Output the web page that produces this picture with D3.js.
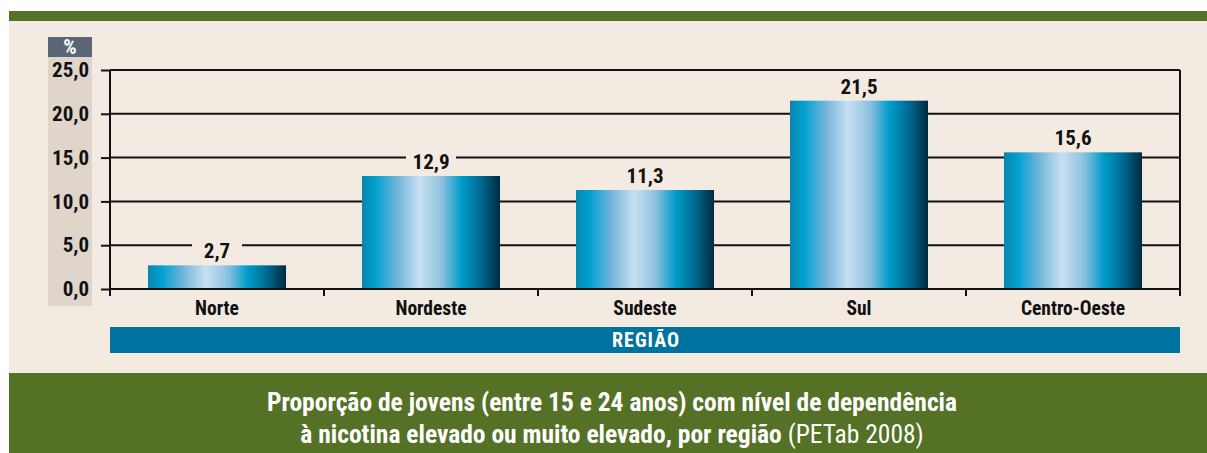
<!DOCTYPE html>
<html><head><meta charset="utf-8">
<script src="https://cdn.jsdelivr.net/npm/d3@7"></script>
<style>
body{margin:0;background:#fff;}
svg{display:block;}
text{font-family:"Liberation Sans Narrow","Roboto Condensed","Liberation Sans",sans-serif;}
</style></head>
<body><svg id="c" width="1207" height="453"></svg>
<script>
const categories = ["Norte","Nordeste","Sudeste","Sul","Centro-Oeste"];
const values = [2.7,12.9,11.3,21.5,15.6];
const yTicks = [0,5,10,15,20,25];
const axisTitle = "REGIÃO";
const unitLabel = "%";
const titleLine1 = "Proporção de jovens (entre 15 e 24 anos) com nível de dependência";
const titleLine2Bold = "à nicotina elevado ou muito elevado, por região";
const titleLine2Rest = " (PETab 2008)";

const svg = d3.select("#c");
const fmt = v => d3.format(".1f")(v).replace(".", ",");

// background panels
svg.append("rect").attr("x",9).attr("y",11).attr("width",1198).attr("height",10).attr("fill","#547126");
svg.append("rect").attr("x",9).attr("y",21).attr("width",1198).attr("height",352).attr("fill","#f3ebe1");
svg.append("rect").attr("x",9).attr("y",373).attr("width",1198).attr("height",80).attr("fill","#547126");

// gradient
const defs = svg.append("defs");
const g = defs.append("linearGradient").attr("id","barg").attr("x1","0%").attr("x2","100%").attr("y1","0%").attr("y2","0%");
[[0,"#0a86ad"],[0.1,"#00a0cf"],[0.25,"#6fb3d9"],[0.42,"#c8e0f1"],[0.58,"#8cc0de"],[0.72,"#009ccb"],[0.86,"#006a92"],[1,"#002a40"]]
  .forEach(([o,c])=>g.append("stop").attr("offset",o).attr("stop-color",c));

const x = d3.scaleBand().domain(categories).range([110,1180]).paddingInner(0.355).paddingOuter(0.1775);
const y = d3.scaleLinear().domain([0,25]).range([289,70]);

// unit box and tick label column
svg.append("rect").attr("x",48).attr("y",57).attr("width",44).attr("height",249).attr("fill","#dfd5cb");
svg.append("rect").attr("x",48).attr("y",37).attr("width",44).attr("height",20).attr("fill","#5a6577");
svg.append("text").attr("x",70).attr("y",54).attr("text-anchor","middle").attr("fill","#fff")
  .attr("font-weight","bold").attr("font-size",21).text(unitLabel);

// gridlines
svg.append("g").selectAll("line").data(yTicks.filter(d=>d>0)).join("line")
  .attr("x1",110).attr("x2",1180).attr("y1",d=>y(d)).attr("y2",d=>y(d))
  .attr("stroke","#111").attr("stroke-width",2);
svg.append("line").attr("x1",1180).attr("x2",1180).attr("y1",y(25)).attr("y2",y(0)).attr("stroke","#111").attr("stroke-width",2);

// y axis
const ya = svg.append("g").attr("transform","translate(110,0)")
  .call(d3.axisLeft(y).tickValues(yTicks).tickSize(9).tickPadding(12).tickFormat(fmt));
ya.select(".domain").attr("stroke","#111").attr("stroke-width",2).attr("d","M0,"+y(25)+"V"+y(0));
ya.selectAll(".tick line").attr("stroke","#111").attr("stroke-width",2);
ya.selectAll(".tick text").attr("font-size",21).attr("font-weight","bold").attr("fill","#111")
  .attr("font-family",'"Liberation Sans Narrow","Roboto Condensed","Liberation Sans",sans-serif');

// bars
svg.append("g").selectAll("rect").data(values).join("rect")
  .attr("x",(d,i)=>x(categories[i])).attr("width",x.bandwidth())
  .attr("y",d=>y(d)).attr("height",d=>y(0)-y(d)).attr("fill","url(#barg)");

// x axis
const xa = svg.append("g").attr("transform","translate(0,"+y(0)+")");
xa.append("line").attr("x1",110).attr("x2",1180).attr("stroke","#111").attr("stroke-width",2);
const bounds = d3.range(categories.length+1).map(i=>110+i*x.step());
xa.selectAll(".tk").data(bounds).join("line").attr("class","tk")
  .attr("x1",d=>d).attr("x2",d=>d).attr("y1",0).attr("y2",7).attr("stroke","#111").attr("stroke-width",2);
xa.selectAll(".lb").data(categories).join("text").attr("class","lb")
  .attr("x",d=>x(d)+x.bandwidth()/2).attr("y",26).attr("text-anchor","middle")
  .attr("font-size",19.5).attr("font-weight","bold").attr("fill","#111").text(d=>d);

// value labels
const vl = svg.append("g").selectAll("g").data(values).join("g")
  .attr("transform",(d,i)=>`translate(${x(categories[i])+x.bandwidth()/2},${y(d)-7})`);
vl.append("rect").attr("x",-25).attr("y",-19).attr("width",50).attr("height",21).attr("fill","#f3ebe1");
vl.append("text").attr("text-anchor","middle").attr("font-size",21).attr("font-weight","bold").attr("fill","#111").text(d=>fmt(d));

// region bar
svg.append("rect").attr("x",110).attr("y",327).attr("width",1070).attr("height",26).attr("fill","#0072a0");
svg.append("text").attr("x",646).attr("y",347).attr("text-anchor","middle").attr("fill","#fff")
  .attr("font-weight","bold").attr("font-size",20).attr("letter-spacing",1).text(axisTitle);

// footer title
svg.append("text").attr("x",612).attr("y",411).attr("text-anchor","middle").attr("fill","#fff")
  .attr("font-weight","bold").attr("font-size",25.5).text(titleLine1);
const t2 = svg.append("text").attr("x",612).attr("y",443).attr("text-anchor","middle").attr("fill","#fff").attr("font-size",25.5);
t2.append("tspan").attr("font-weight","bold").text(titleLine2Bold);
t2.append("tspan").text(titleLine2Rest);
</script></body></html>
